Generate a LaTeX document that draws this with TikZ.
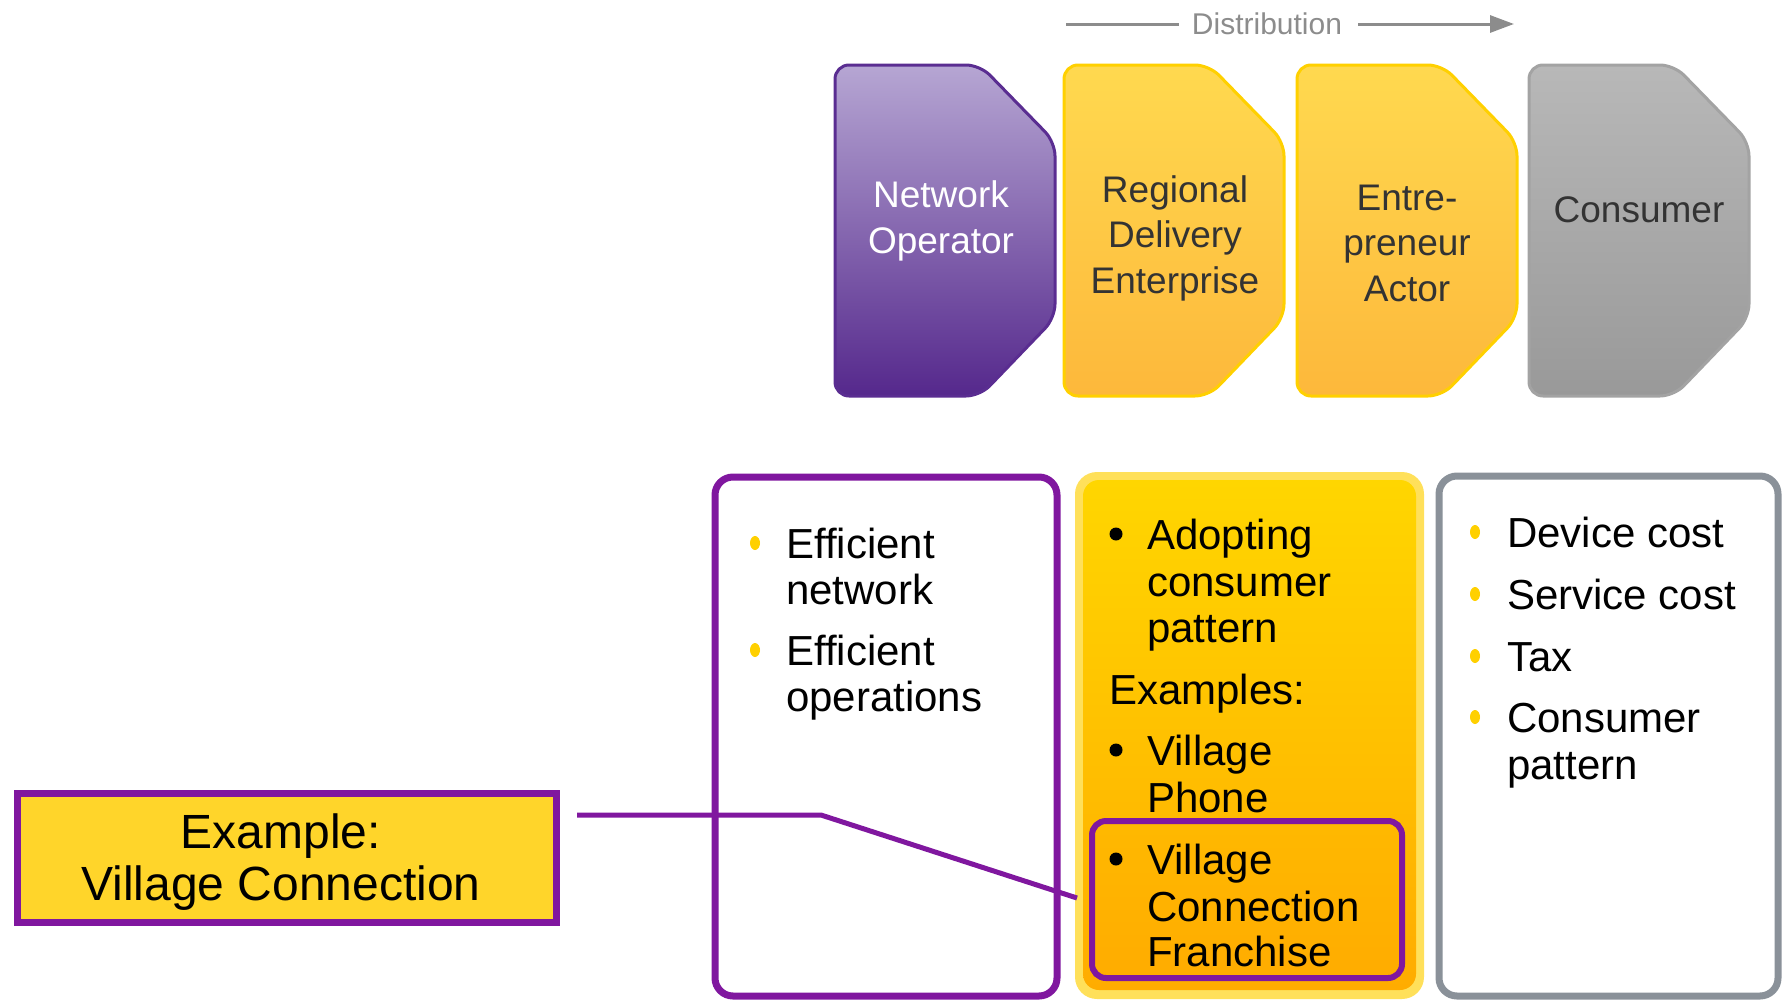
\documentclass[tikz,border=0pt]{standalone}
\usepackage{fontspec}
\setmainfont{Liberation Sans}
\usetikzlibrary{arrows.meta}
\definecolor{vpurple}{HTML}{80179F}
\definecolor{vgray}{HTML}{8A9199}
\definecolor{yedge}{HTML}{FFE05A}
\definecolor{ytop}{HTML}{FFD600}
\definecolor{ybot}{HTML}{FFAC00}
\definecolor{bulyel}{HTML}{FFD000}
\definecolor{exfill}{HTML}{FFD52A}
\definecolor{nopTop}{HTML}{B6A6D3}
\definecolor{nopBot}{HTML}{55288C}
\definecolor{nopEdge}{HTML}{5A2D91}
\definecolor{shYtop}{HTML}{FFD94F}
\definecolor{shYbot}{HTML}{FDB83B}
\definecolor{shYedge}{HTML}{FFD000}
\definecolor{shGtop}{HTML}{B8B8B8}
\definecolor{shGbot}{HTML}{999999}
\definecolor{shGedge}{HTML}{A3A3A3}
\definecolor{distgray}{HTML}{8C8C8C}
\definecolor{darktxt}{HTML}{333333}
\begin{document}
\begin{tikzpicture}[x=1pt,y=-1pt,
  tabtext/.style={align=center, inner sep=0pt, font=\fontsize{37}{45.5}\selectfont},
  lst/.style={anchor=base west, inner sep=0pt, font=\fontsize{42}{46}\selectfont},
  ybul/.style={fill=bulyel},
  bbul/.style={fill=black},
  purpleline/.style={draw=vpurple, line width=7pt},
]
\useasboundingbox (0,0) rectangle (1782,1001);
\clip (0,0) rectangle (1782,1001);

% ---------- top tab shapes ----------
\newcommand\tabshape[1]{(#1,65) -- ({#1+145},65) -- ({#1+220},142) -- ({#1+220},318) -- ({#1+145},396) -- (#1,396) -- cycle}
\path[rounded corners=14pt, draw=nopEdge, line width=3pt, top color=nopTop, bottom color=nopBot] \tabshape{835};
\path[rounded corners=14pt, draw=shYedge, line width=3pt, top color=shYtop, bottom color=shYbot] \tabshape{1064};
\path[rounded corners=14pt, draw=shYedge, line width=3pt, top color=shYtop, bottom color=shYbot] \tabshape{1297};
\path[rounded corners=14pt, draw=shGedge, line width=3pt, top color=shGtop, bottom color=shGbot] \tabshape{1529};

\node[tabtext, text=white] (nop) at (941,221) {Network\\Operator};
\node[tabtext, text=darktxt] (rde) at (1175,238) {Regional\\Delivery\\Enterprise};
\node[tabtext, text=darktxt] (ea) at (1407,243) {Entre-\\preneur\\Actor};
\node[tabtext, text=darktxt] (cons) at (1639,210) {Consumer};

% ---------- distribution arrow ----------
\node[inner sep=0pt, anchor=base, text=distgray, font=\fontsize{30}{34}\selectfont] (dist) at (1267,34) {Distribution};
\coordinate (dl) at (1066,24);
\coordinate (dr) at (1514,24);
\draw[distgray, line width=3pt] (dl) -- ([xshift=-13pt]dist.west |- dl);
\draw[distgray, line width=3pt, -{Triangle[length=24pt,width=17pt]}] ([xshift=16pt]dist.east |- dr) -- (dr);

% ---------- bottom boxes ----------
% left purple
\draw[purpleline, rounded corners=18pt, fill=white] (715,477) rectangle (1057,996);
% middle yellow
\fill[yedge, rounded corners=22pt] (1075,472) rectangle (1424,999);
\path[rounded corners=16pt, top color=ytop, bottom color=ybot] (1083,480) rectangle (1416,990);
% right gray
\draw[vgray, line width=7pt, rounded corners=18pt, fill=white] (1439,476) rectangle (1778,996);
% inner highlight box
\draw[vpurple, line width=6pt, rounded corners=14pt, top color=ybot!70!ytop, bottom color=ybot] (1092,821) rectangle (1402,978);

% ---------- left list ----------
\fill[ybul] (755,543) ellipse (5 and 7);
\node[lst] (l1a) at (786,558) {Efficient};
\node[lst] (l1b) at (786,604) {network};
\fill[ybul] (755,650) ellipse (5 and 7);
\node[lst] (l2a) at (786,665) {Efficient};
\node[lst] (l2b) at (786,711) {operations};

% ---------- middle list ----------
\fill[bbul] (1116,534) circle (6.5);
\node[lst] (m1a) at (1147,549) {Adopting};
\node[lst] (m1b) at (1147,596) {consumer};
\node[lst] (m1c) at (1147,642) {pattern};
\node[lst] (mex) at (1109,704) {Examples:};
\fill[bbul] (1116,750) circle (6.5);
\node[lst] (m2a) at (1147,765) {Village};
\node[lst] (m2b) at (1147,812) {Phone};
\fill[bbul] (1116,859) circle (6.5);
\node[lst] (m3a) at (1147,874) {Village};
\node[lst] (m3b) at (1147,921) {Connection};
\node[lst] (m3c) at (1147,966) {Franchise};

% ---------- right list ----------
\fill[ybul] (1475,532) ellipse (5 and 7);
\node[lst] (r1) at (1507,547) {Device cost};
\fill[ybul] (1475,594) ellipse (5 and 7);
\node[lst] (r2) at (1507,609) {Service cost};
\fill[ybul] (1475,656) ellipse (5 and 7);
\node[lst] (r3) at (1507,671) {Tax};
\fill[ybul] (1475,717) ellipse (5 and 7);
\node[lst] (r4a) at (1507,732) {Consumer};
\node[lst] (r4b) at (1507,779) {pattern};

% ---------- example box ----------
\node[draw=vpurple, line width=7pt, fill=exfill, minimum width=539pt, minimum height=129pt] (ex) at (287,858) {};
\node[align=center, inner sep=0pt, font=\fontsize{48}{52}\selectfont] (extext) at (281,862) {Example:\\Village Connection};

% ---------- connector ----------
\coordinate (lstart) at (577,815);
\coordinate (lbend) at (821,815);
\coordinate (lend) at (1077,898);
\draw[vpurple, line width=5pt] (lstart) -- (lbend) -- (lend);
\end{tikzpicture}
\end{document}
